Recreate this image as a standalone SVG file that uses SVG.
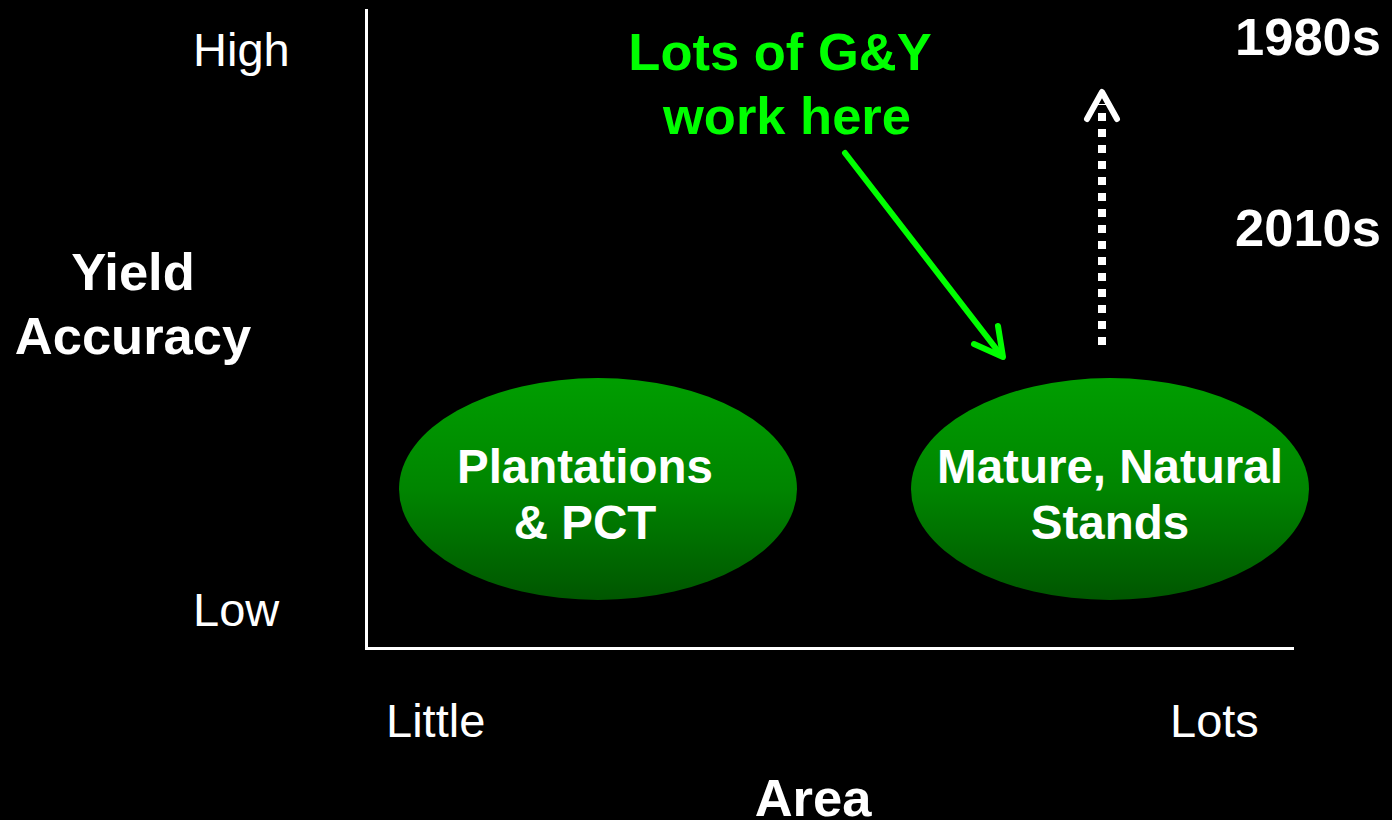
<svg xmlns="http://www.w3.org/2000/svg" width="1392" height="820" viewBox="0 0 1392 820">
<defs>
<linearGradient id="g" x1="0" y1="0" x2="0" y2="1">
<stop offset="0" stop-color="#009e00"/>
<stop offset="0.5" stop-color="#008500"/>
<stop offset="1" stop-color="#005600"/>
</linearGradient>
<style>
text{font-family:"Liberation Sans",Arial,sans-serif;fill:#fff}
.r{font-size:47px}
.b{font-size:52.5px;font-weight:bold}
.e{font-size:47.5px;font-weight:bold}
.gr{fill:#00ff00}
</style>
</defs>
<rect width="1392" height="820" fill="#000"/>
<g id="axes" stroke="#fff" stroke-width="3" fill="none">
<line x1="366.5" y1="9" x2="366.5" y2="649"/>
<line x1="365" y1="648.5" x2="1294" y2="648.5"/>
</g>
<g id="labels">
<text class="r" x="193" y="66">High</text>
<text class="r" x="193" y="626">Low</text>
<text class="r" x="386" y="737">Little</text>
<text class="r" x="1170" y="737">Lots</text>
<text class="b" x="813" y="816" text-anchor="middle">Area</text>
<text class="b" x="133" y="290" text-anchor="middle">Yield</text>
<text class="b" x="133" y="354" text-anchor="middle">Accuracy</text>
<text class="b" x="1381" y="55" text-anchor="end">1980s</text>
<text class="b" x="1381" y="246" text-anchor="end">2010s</text>
<text class="b gr" x="780" y="70" text-anchor="middle">Lots of G&amp;Y</text>
<text class="b gr" x="787" y="134" text-anchor="middle">work here</text>
</g>
<g id="plantations">
<ellipse cx="598" cy="489" rx="199" ry="111" fill="url(#g)"/>
<text class="e" x="585" y="483" text-anchor="middle">Plantations</text>
<text class="e" x="585" y="539" text-anchor="middle">&amp; PCT</text>
</g>
<g id="mature">
<ellipse cx="1110" cy="489" rx="199" ry="111" fill="url(#g)"/>
<text class="e" x="1110" y="483" text-anchor="middle">Mature, Natural</text>
<text class="e" x="1110" y="539" text-anchor="middle">Stands</text>
</g>
<g id="connectors" fill="none" stroke-linecap="round" stroke-linejoin="round">
<line x1="845" y1="153" x2="1001" y2="355" stroke="#00ff00" stroke-width="6"/>
<polyline points="974,344 1003,357 998,326" stroke="#00ff00" stroke-width="6"/>
<line x1="1102" y1="345" x2="1102" y2="104" stroke="#fff" stroke-width="8" stroke-dasharray="8 8" stroke-linecap="butt"/>
<polyline points="1087,119 1102,92 1117,119" stroke="#fff" stroke-width="6"/>
</g>
</svg>
